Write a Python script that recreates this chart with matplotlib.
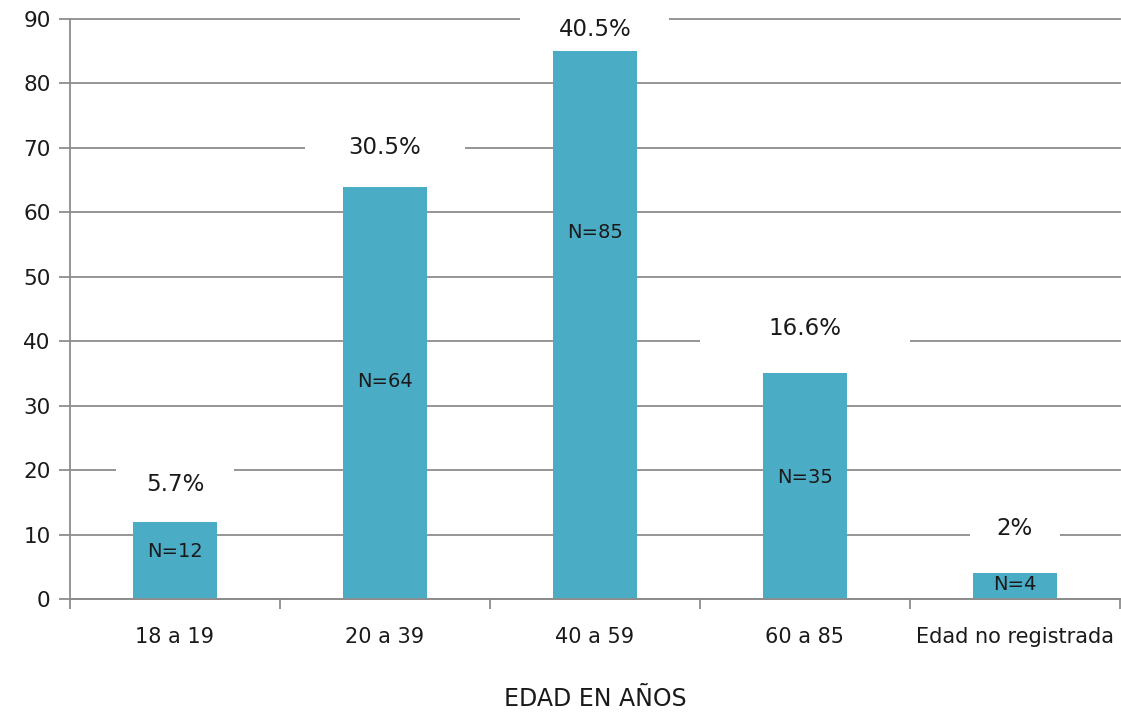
import matplotlib
matplotlib.use("Agg")
import matplotlib.pyplot as plt
import numpy as np

# Data
categories = ["18 a 19", "20 a 39", "40 a 59", "60 a 85", "Edad no registrada"]
counts = [12, 64, 85, 35, 4]
percent_labels = ["5.7%", "30.5%", "40.5%", "16.6%", "2%"]
yticks = [0, 10, 20, 30, 40, 50, 60, 70, 80, 90]

# Label placement (vertical position of each annotation, in axis units)
pct_label_y = [17.7, 70.0, 88.3, 42.0, 11.0]
pct_box_width = [0.56, 0.76, 0.71, 1.0, 0.43]
n_label_y = [7.4, 33.8, 56.8, 18.8, 2.2]

plt.rcParams['font.family'] = ['DejaVu Sans']

bar_color = "#4BACC6"
grid_color = "#8C8C8C"
text_color = "#1a1a1a"

fig = plt.figure(figsize=(11.21, 7.15), dpi=100)
ax = fig.add_axes([0.0624, 0.1622, 0.9366, 0.8112])

x = np.arange(len(categories))
ax.set_xlim(-0.5, len(categories) - 0.5)
ax.set_ylim(0, 90)

ax.set_yticks(yticks)
ax.yaxis.grid(True, color=grid_color, linewidth=1.3, zorder=0)
ax.set_axisbelow(True)
for gl in ax.get_ygridlines():
    gl.set_clip_on(False)

ax.bar(x, counts, width=0.4, color=bar_color, zorder=2)

# Percentage labels on white boxes over the grid
for xi, lab, ly, bw in zip(x, percent_labels, pct_label_y, pct_box_width):
    ax.add_patch(plt.Rectangle((xi - bw / 2, ly - 3.2), bw, 6.4,
                               facecolor="white", edgecolor="none", zorder=3,
                               clip_on=False))
    ax.text(xi, ly, lab, ha="center", va="center", fontsize=16.5,
            color=text_color, zorder=4)

# Count labels inside bars
for xi, c, ly in zip(x, counts, n_label_y):
    ax.text(xi, ly, f"N={c}", ha="center", va="center", fontsize=14,
            color=text_color, zorder=4)

# Axes styling
for s in ["top", "right"]:
    ax.spines[s].set_visible(False)
ax.spines["left"].set_color(grid_color)
ax.spines["left"].set_linewidth(1.3)
ax.spines["bottom"].set_color(grid_color)
ax.spines["bottom"].set_linewidth(1.3)

ax.tick_params(axis="y", colors=grid_color, length=8, width=1.3,
               labelsize=15.5, labelcolor=text_color, pad=6)
ax.set_xticks(x)
ax.set_xticklabels(categories)
ax.tick_params(axis="x", which="major", length=0, labelsize=15,
               labelcolor=text_color, pad=20)
ax.set_xticks(np.arange(-0.5, len(categories) + 0.5, 1.0), minor=True)
ax.tick_params(axis="x", which="minor", length=7, width=1.3, colors=grid_color)

ax.set_xlabel("EDAD EN AÑOS", fontsize=17, color=text_color, labelpad=29)

fig.savefig("out.png", dpi=100)
